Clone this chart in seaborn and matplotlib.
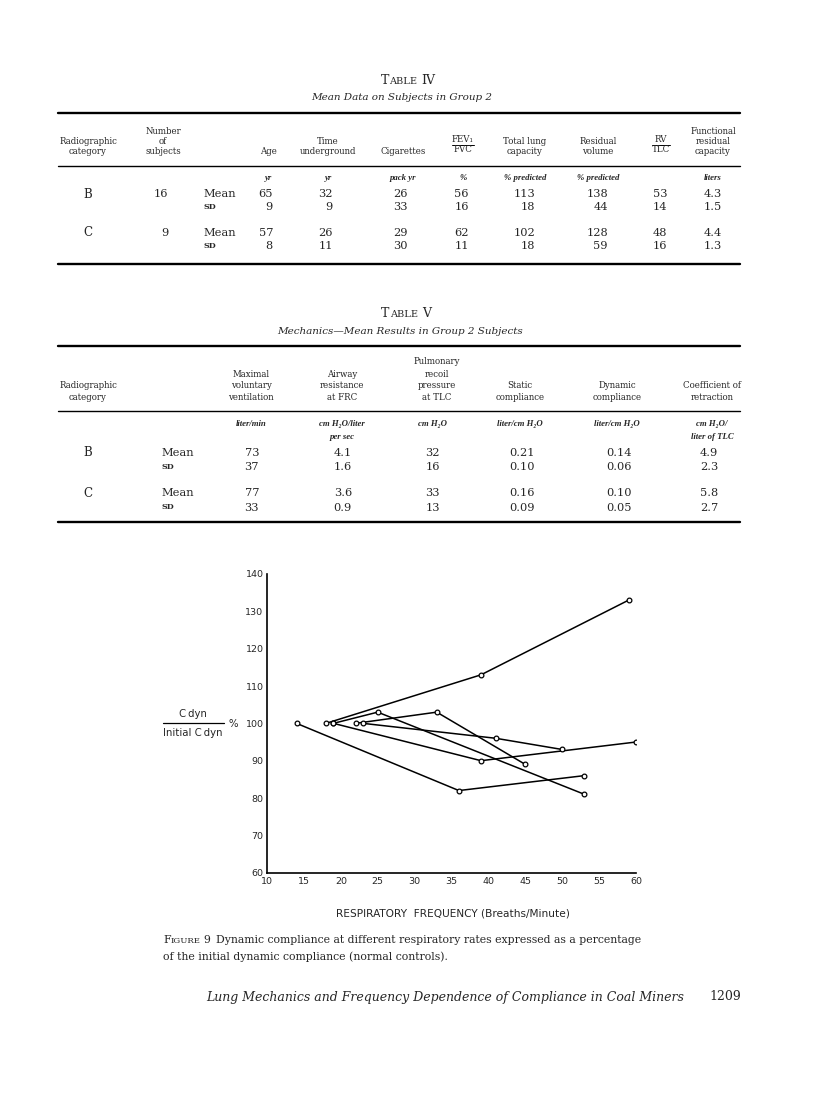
import matplotlib
matplotlib.use('Agg')
import matplotlib.pyplot as plt
from matplotlib.lines import Line2D
import pandas as pd
import seaborn as sns

# ---------------- chart data (Figure 9) ----------------
subject_ids = [1, 2, 3, 4, 5, 6]
freq_1 = [14, 36, 53]
cdyn_1 = [100, 82, 86]
freq_2 = [18, 39, 59]
cdyn_2 = [100, 113, 133]
freq_3 = [19, 25, 53]
cdyn_3 = [100, 103, 81]
freq_4 = [19, 39, 60]
cdyn_4 = [100, 90, 95]
freq_5 = [22, 33, 45]
cdyn_5 = [100, 103, 89]
freq_6 = [23, 41, 50]
cdyn_6 = [100, 96, 93]

x_ticks = [10, 15, 20, 25, 30, 35, 40, 45, 50, 55, 60]
y_ticks = [60, 70, 80, 90, 100, 110, 120, 130, 140]

# ---------------- Table IV ----------------
t4_headers = [["Age"], ["Time", "underground"], ["Cigarettes"], None,
              ["Total lung", "capacity"], ["Residual", "volume"], None,
              ["Functional", "residual", "capacity"]]
t4_units = ["yr", "yr", "pack yr", "%", "% predicted", "% predicted", "", "liters"]
t4_b_mean = ["65", "32", "26", "56", "113", "138", "53", "4.3"]
t4_b_sd = ["9", "9", "33", "16", "18", "44", "14", "1.5"]
t4_c_mean = ["57", "26", "29", "62", "102", "128", "48", "4.4"]
t4_c_sd = ["8", "11", "30", "11", "18", "59", "16", "1.3"]
t4_n = ["16", "9"]

# ---------------- Table V ----------------
t5_headers = [["Maximal", "voluntary", "ventilation"],
              ["Airway", "resistance", "at FRC"],
              ["Pulmonary", "recoil", "pressure", "at TLC"],
              ["Static", "compliance"],
              ["Dynamic", "compliance"],
              ["Coefficient of", "retraction"]]
t5_units = [["liter/min"], ["cm H\u2082O/liter", "per sec"], ["cm H\u2082O"],
            ["liter/cm H\u2082O"], ["liter/cm H\u2082O"], ["cm H\u2082O/", "liter of TLC"]]
t5_b_mean = ["73", "4.1", "32", "0.21", "0.14", "4.9"]
t5_b_sd = ["37", "1.6", "16", "0.10", "0.06", "2.3"]
t5_c_mean = ["77", "3.6", "33", "0.16", "0.10", "5.8"]
t5_c_sd = ["33", "0.9", "13", "0.09", "0.05", "2.7"]

categories = ["B", "C"]

W, H = 816, 1100
SERIF = ['DejaVu Serif']
NARROW = ['Liberation Serif', 'DejaVu Serif']
SANS = ['DejaVu Sans']

sns.set_style('white')
plt.rcParams['font.family'] = SERIF

fig = plt.figure(figsize=(W / 100, H / 100), dpi=100)


def put(x, y, s, size=8, ha='center', va='center', family=SERIF, **kw):
    return fig.text(x / W, 1 - y / H, s, fontsize=size, ha=ha, va=va,
                    family=family, **kw)


def rule(y, x0=58, x1=740, lw=0.8):
    fig.add_artist(Line2D([x0 / W, x1 / W], [1 - y / H, 1 - y / H],
                          transform=fig.transFigure, color='black', lw=lw))


def small_caps(xc, y, parts, family=SERIF, ha='center'):
    # parts: (text, size, gap after in px); y is the baseline
    r = fig.canvas.get_renderer()
    objs = [fig.text(0, 1 - y / H, s, fontsize=sz, va='baseline', family=family)
            for s, sz, _ in parts]
    widths = [t.get_window_extent(r).width + g for t, (_, _, g) in zip(objs, parts)]
    x = xc - sum(widths) / 2 if ha == 'center' else xc
    for t, w in zip(objs, widths):
        t.set_x(x / W)
        x += w


def stacked(x, y_bottom, lines, step, **kw):
    n = len(lines)
    for i, s in enumerate(lines):
        put(x, y_bottom - (n - 1 - i) * step, s, **kw)


def fraction(x, top, bottom, y_top, y_bot, size=6.2, half=11):
    put(x, y_top, top, size=size)
    put(x, y_bot, bottom, size=size)
    ym = (y_top + y_bot) / 2
    fig.add_artist(Line2D([(x - half) / W, (x + half) / W], [1 - ym / H, 1 - ym / H],
                          transform=fig.transFigure, color='black', lw=0.7))


hsz = 6.2     # header text
vsz = 8.2     # table values
usz = 6.3     # units
sdsz = 5.8    # "SD" small caps

# ================= TABLE IV =================
small_caps(408, 84, [("T", 9, 0), ("ABLE", 7, 4), ("IV", 9, 0)])
put(402, 98, "Mean Data on Subjects in Group 2", size=7.5, style='italic')
rule(113, lw=1.7)

stacked(88, 152, ["Radiographic", "category"], 10.5, size=hsz)
stacked(163, 152, ["Number", "of", "subjects"], 10.5, size=hsz)
t4_head_x = [268, 328, 403, 463, 525, 598, 661, 713]
for xc, lines in zip(t4_head_x, t4_headers):
    if lines:
        stacked(xc, 152, lines, 10.5, size=hsz)
fraction(463, "FEV\u2081", "FVC", 139, 150)
fraction(661, "RV", "TLC", 139, 150, half=9)
rule(166, lw=1.0)

for xc, u in zip(t4_head_x, t4_units):
    if u:
        put(xc, 178, u, size=usz, style='italic', weight='bold', family=NARROW)

t4_right = [273, 333, 408, 469, 535, 608, 667, 722]
t4_rows = [(194, t4_b_mean), (207, t4_b_sd), (233, t4_c_mean), (246, t4_c_sd)]
for y, vals in t4_rows:
    for xr, v in zip(t4_right, vals):
        put(xr, y, v, size=vsz, ha='right')
for y, cat, n in [(194, categories[0], t4_n[0]), (233, categories[1], t4_n[1])]:
    put(88, y, cat, size=8.6)
    put(168, y, n, size=vsz, ha='right')
    put(203, y, "Mean", size=vsz, ha='left')
    put(203, y + 13, "SD", size=sdsz, ha='left', weight='bold')
rule(264, lw=1.7)

# ================= TABLE V =================
small_caps(406, 317, [("T", 9, 0), ("ABLE", 7, 4), ("V", 9, 0)])
put(400, 331, "Mechanics\u2014Mean Results in Group 2 Subjects", size=7.5, style='italic')
rule(346, lw=1.7)

stacked(88, 398, ["Radiographic", "category"], 12, size=hsz)
t5_head_x = [251, 342, 437, 520, 617, 712]
for xc, lines in zip(t5_head_x, t5_headers):
    stacked(xc, 398, lines, 12, size=hsz)
rule(411, lw=1.0)

t5_unit_x = [251, 342, 433, 520, 617, 712]
for xc, lines in zip(t5_unit_x, t5_units):
    for i, s in enumerate(lines):
        put(xc, 424 + 13 * i, s, size=usz, style='italic', weight='bold', family=NARROW)

t5_right = [259, 352, 440, 535, 632, 718]
t5_rows = [(453, t5_b_mean), (467, t5_b_sd), (493, t5_c_mean), (508, t5_c_sd)]
for y, vals in t5_rows:
    for xr, v in zip(t5_right, vals):
        put(xr, y, v, size=vsz, ha='right')
for y, cat in [(453, categories[0]), (493, categories[1])]:
    put(88, y, cat, size=8.6)
    put(161, y, "Mean", size=vsz, ha='left')
    put(161, y + 14, "SD", size=sdsz, ha='left', weight='bold')
rule(522, lw=1.7)

# ================= FIGURE 9 =================
frames = []
for sid, fx, cy in zip(subject_ids,
                       [freq_1, freq_2, freq_3, freq_4, freq_5, freq_6],
                       [cdyn_1, cdyn_2, cdyn_3, cdyn_4, cdyn_5, cdyn_6]):
    frames.append(pd.DataFrame({'subject': sid, 'freq': fx, 'cdyn': cy}))
df = pd.concat(frames, ignore_index=True)

ax = fig.add_axes([267 / W, 1 - 872.7 / H, (636 - 267) / W, (872.7 - 574) / H])
sns.lineplot(data=df, x='freq', y='cdyn', units='subject', estimator=None,
             sort=False, color='black', lw=1.1, marker='o', markersize=3.4,
             markerfacecolor='white', markeredgecolor='black',
             markeredgewidth=0.9, ax=ax, legend=False)
ax.set_xlim(10, 60)
ax.set_ylim(60, 140)
ax.set_xticks(x_ticks)
ax.set_yticks(y_ticks)
ax.set_xlabel('')
ax.set_ylabel('')
sns.despine(ax=ax)
for side in ['left', 'bottom']:
    ax.spines[side].set_linewidth(1.2)
    ax.spines[side].set_color('black')
ax.tick_params(axis='y', direction='in', length=3, width=1, pad=2.5, labelsize=6.8)
ax.tick_params(axis='x', direction='in', length=0, pad=3, labelsize=6.8)
for lab in ax.get_xticklabels() + ax.get_yticklabels():
    lab.set_family(SANS)
ax.patch.set_alpha(0)

# y label drawn as a fraction
put(193, 714, "C\u2009dyn", size=7.3, family=SANS)
put(193, 733, "Initial C\u2009dyn", size=7.3, family=SANS)
fig.add_artist(Line2D([163 / W, 224 / W], [1 - 723 / H, 1 - 723 / H],
                      transform=fig.transFigure, color='black', lw=0.9))
put(233, 724, "%", size=7.3, family=SANS)

put(453, 914, "RESPIRATORY  FREQUENCY (Breaths/Minute)", size=7.6, family=SANS)

# caption
small_caps(163, 943, [("F", 7.8, 0), ("IGURE", 6.1, 3), ("9", 7.8, 6),
                      ("Dynamic compliance at different respiratory rates expressed as a percentage", 7.8, 0)],
           ha='left')
put(163, 957, "of the initial dynamic compliance (normal controls).", size=7.8, ha='left')

# running footer
put(206, 997, "Lung Mechanics and Frequency Dependence of Compliance in Coal Miners",
    size=9.0, ha='left', style='italic')
put(741, 997, "1209", size=9.0, ha='right')

fig.savefig('out.png', dpi=100, facecolor='white')
